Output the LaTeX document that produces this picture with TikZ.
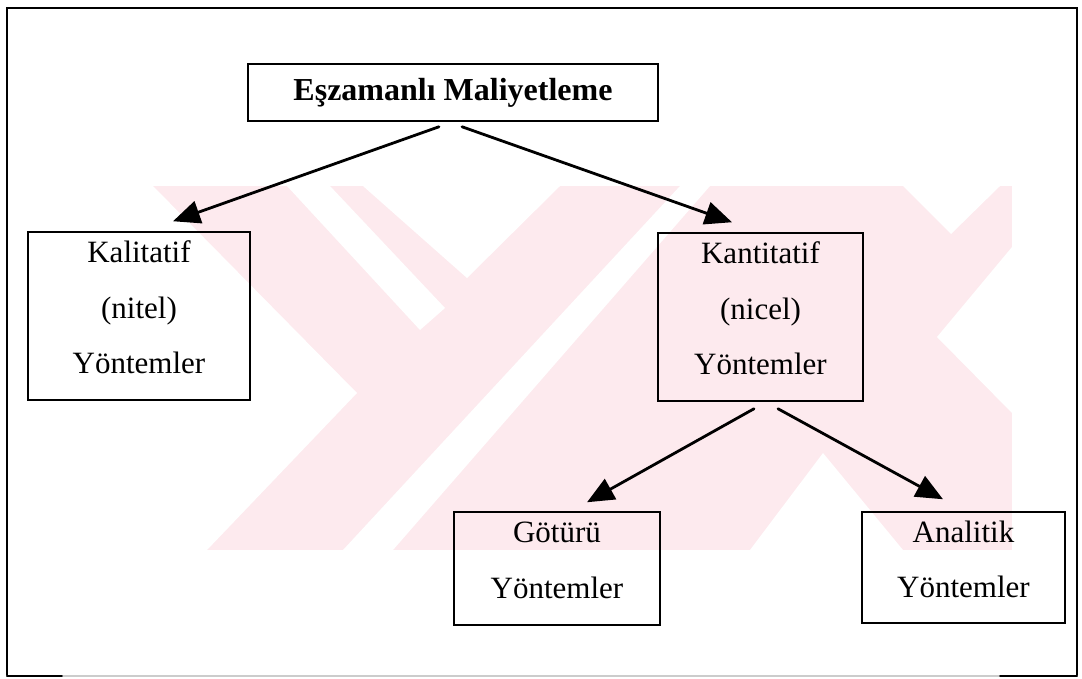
\documentclass[tikz,border=0pt]{standalone}
\usepackage{fontspec}
\setmainfont{Liberation Serif}
\usetikzlibrary{arrows.meta}
\definecolor{markpink}{RGB}{253,234,238}
\newcommand{\lowpad}{\rule[-17pt]{0pt}{0pt}}

\begin{document}
\begin{tikzpicture}[x=1pt, y=-1pt, line cap=round,
  methbox/.style={draw, line width=1.5pt, inner sep=0pt, align=center,
    font=\fontsize{31}{55.5}\selectfont},
  flow/.style={line width=2.8pt, -{Triangle[length=27pt,width=23pt]}}]
  \useasboundingbox (0,0) rectangle (1082,678);
  % ---------- watermark ----------
  \fill[markpink] (145,186) rectangle (1012,550);
  \fill[white] (145,186) -- (153,186) -- (357,393) -- (207,550) -- (145,550) -- cycle;
  \fill[white] (287,186) -- (330,186) -- (445,308) -- (420,330) -- cycle;
  \fill[white] (363,186) -- (560,186) -- (467,278) -- cycle;
  \fill[white] (343,550) -- (393,550) -- (710,186) -- (680,186) -- cycle;
  \fill[white] (903,186) -- (1000,186) -- (951,234) -- cycle;
  \fill[white] (1012,247) -- (937,337) -- (1012,413) -- cycle;
  \fill[white] (750,550) -- (903,550) -- (823,453) -- cycle;
  % ---------- frame ----------
  \draw[line width=1.6pt] (7,676) -- (7,8) -- (1077,8) -- (1077,676);
  \draw[gray!40, line width=1.2pt] (7,676) -- (1077,676);
  \draw[line width=1.6pt] (7,676) -- (62,676);
  \draw[line width=1.6pt] (1000,676) -- (1077,676);
  % ---------- boxes ----------
  \node[methbox, minimum width=410pt, minimum height=57pt,
    font=\fontsize{32}{40}\selectfont\bfseries] (title) at (453,92.5) {Eşzamanlı Maliyetleme};
  \node[methbox, minimum width=222pt, minimum height=168pt] (kal) at (139,316)
    {Kalitatif\\(nitel)\\Yöntemler\lowpad};
  \node[methbox, minimum width=205pt, minimum height=168pt] (kan) at (760.5,317)
    {Kantitatif\\(nicel)\\Yöntemler\lowpad};
  \node[methbox, minimum width=206pt, minimum height=113pt] (got) at (557,568.5)
    {Götürü\\Yöntemler\lowpad};
  \node[methbox, minimum width=203pt, minimum height=111pt] (ana) at (963.5,567.5)
    {Analitik\\Yöntemler\lowpad};
  % ---------- arrows ----------
  \draw[flow] ([xshift=-14pt,yshift=-5pt]title.south) -- ([xshift=34pt,yshift=10pt]kal.north);
  \draw[flow] ([xshift=9pt,yshift=-5pt]title.south) -- ([xshift=-28.5pt,yshift=10pt]kan.north);
  \draw[flow] ([xshift=-6.5pt,yshift=-7pt]kan.south) -- ([xshift=30pt,yshift=9pt]got.north);
  \draw[flow] ([xshift=17.5pt,yshift=-7pt]kan.south) -- ([xshift=-20.5pt,yshift=12pt]ana.north);
\end{tikzpicture}
\end{document}
